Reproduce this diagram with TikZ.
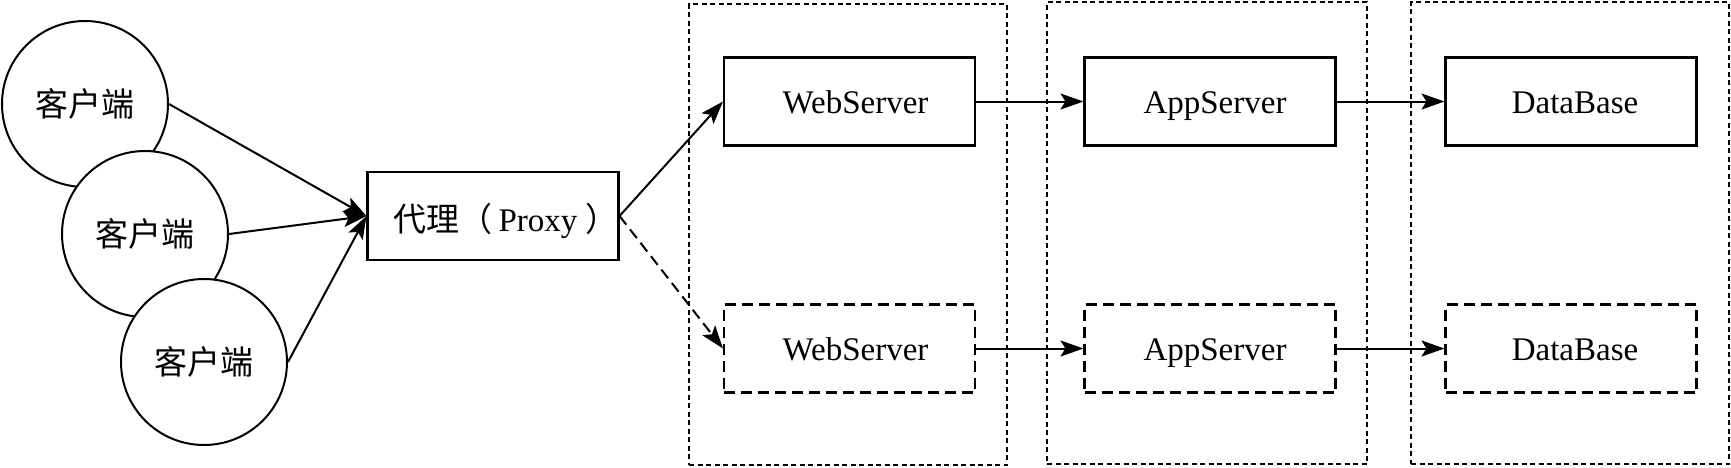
\documentclass[tikz,border=0pt]{standalone}
\usepackage{fontspec}
\setmainfont{Liberation Serif}
\newfontfamily\cjk{Noto Sans CJK SC}
\usetikzlibrary{arrows.meta}
\begin{document}
\begin{tikzpicture}[x=1pt,y=-1pt,
  every node/.style={font=\fontsize{33}{40}\selectfont},
  client/.style={circle,draw,fill=white,line width=2pt,minimum size=166pt,inner sep=0pt},
  srv/.style={rectangle,draw,line width=2.1pt,minimum width=251pt,minimum height=88pt,inner sep=0pt,text height=23pt,text depth=0pt},
  srvdash/.style={srv,dash pattern=on 11pt off 6pt},
  group/.style={rectangle,draw,line width=1.6pt,dash pattern=on 5pt off 3.5pt,inner sep=0pt},
  conn/.style={line width=2pt,-{Stealth[length=23pt,width=16pt,inset=5pt]}},
  conndash/.style={conn,dash pattern=on 11pt off 6pt},
]
\useasboundingbox (0,0) rectangle (1731,467);
% groups
\node[group,minimum width=318pt,minimum height=461pt] (g1) at (848,234.5) {};
\node[group,minimum width=320pt,minimum height=462pt] (g2) at (1207,233) {};
\node[group,minimum width=318pt,minimum height=462pt] (g3) at (1570,233) {};
% clients
\node[client] (c1) at (85,104) {\cjk 客户端};
\node[client] (c2) at (145,234) {\cjk 客户端};
\node[client] (c3) at (204,362) {\cjk 客户端};
% proxy
\node[srv,text height=30pt] (px) at (493,216) {\hspace*{26pt}{\cjk 代理（}\hspace{6pt}Proxy\hspace{8pt}{\cjk ）}};
% servers
\node[srv] (ws1) at (849.5,101.5) {\hspace*{12pt}WebServer};
\node[srv] (as1) at (1210,101.5) {\hspace*{10pt}AppServer};
\node[srv] (db1) at (1571,101.5) {\hspace*{8pt}DataBase};
\node[srvdash] (ws2) at (849.5,348.5) {\hspace*{12pt}WebServer};
\node[srvdash] (as2) at (1210,348.5) {\hspace*{10pt}AppServer};
\node[srvdash] (db2) at (1571,348.5) {\hspace*{8pt}DataBase};
% connectors
\draw[conn] (c1.east) -- (px.west);
\draw[conn] (c2.east) -- (px.west);
\draw[conn] (c3.east) -- (px.west);
\draw[conn] (px.east) -- (ws1.west);
\draw[conndash] (px.east) -- (ws2.west);
\draw[conn] (ws1.east) -- (as1.west);
\draw[conn] (as1.east) -- (db1.west);
\draw[conn] (ws2.east) -- (as2.west);
\draw[conn] (as2.east) -- (db2.west);
\end{tikzpicture}
\end{document}
